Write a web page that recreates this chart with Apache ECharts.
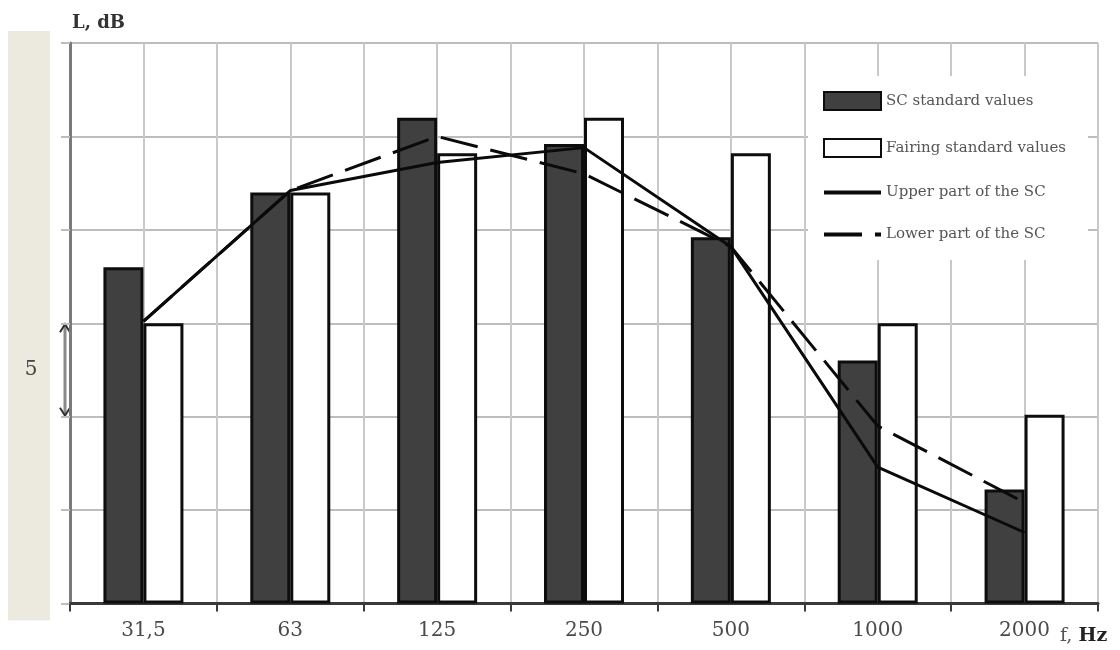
<!DOCTYPE html>
<html>
<head>
<meta charset="utf-8">
<script src="https://cdn.jsdelivr.net/npm/echarts@6/dist/echarts.min.js"></script>
<style>
  html, body { margin: 0; padding: 0; background: #fff; }
  #chart { width: 1120px; height: 650px; }
</style>
</head>
<body>
<div id="chart"></div>
<script>
// ---- data ----
const categories = ['31,5', '63', '125', '250', '500', '1000', '2000'];
const scStandard = [18.0, 22.0, 26.0, 24.6, 19.6, 13.0, 6.1];
const fairingStandard = [15.0, 22.0, 24.1, 26.0, 24.1, 15.0, 10.1];
const upperSC = [15.1, 22.1, 23.6, 24.4, 19.1, 7.3, 3.8];
const lowerSC = [15.1, 22.1, 25.0, 23.0, 19.1, 9.5, 5.4];
const yMin = 0, yMax = 30, yStep = 5;
const halfBands = 14; // vertical grid lines every half category
const seriesNames = ['SC standard values', 'Fairing standard values', 'Upper part of the SC', 'Lower part of the SC'];
const bracketFrom = 10, bracketTo = 15, bracketLabel = '5';

const serif = 'DejaVu Serif';
const chart = echarts.init(document.getElementById('chart'), null, { renderer: 'canvas' });
const hiddenSymbol = { color: 'rgba(0,0,0,0)', borderWidth: 0, opacity: 0 };

chart.setOption({
  animation: false,
  backgroundColor: '#fff',
  grid: { left: 70, right: 22, top: 43, bottom: 46.5, containLabel: false },
  legend: {
    orient: 'vertical',
    left: 808, top: 76,
    padding: [15, 22, 18, 14],
    backgroundColor: '#fff',
    itemWidth: 57, itemHeight: 18, itemGap: 27,
    selectedMode: false,
    textStyle: { fontFamily: serif, fontSize: 15, color: '#555' },
    data: [
      { name: seriesNames[0], icon: 'rect' },
      { name: seriesNames[1], icon: 'rect' },
      { name: seriesNames[2], itemStyle: hiddenSymbol, lineStyle: { width: 4 } },
      { name: seriesNames[3], itemStyle: hiddenSymbol, lineStyle: { width: 4 } }
    ]
  },
  xAxis: [
    {
      type: 'category', data: categories, boundaryGap: true,
      axisLine: { show: true, lineStyle: { color: '#3a3a3a', width: 3 } },
      axisTick: { show: true, interval: 0, length: 8, lineStyle: { color: '#3a3a3a', width: 2 } },
      axisLabel: { interval: 0, margin: 17, fontFamily: serif, fontSize: 20, color: '#4a4a4a' },
      splitLine: { show: false }
    },
    {
      type: 'value', min: 0, max: halfBands, interval: 1, position: 'top',
      axisLine: { show: false }, axisTick: { show: false }, axisLabel: { show: false },
      splitLine: { show: true, lineStyle: { color: '#c9c9c9', width: 2 } }
    }
  ],
  yAxis: {
    type: 'value', min: yMin, max: yMax, interval: yStep,
    name: 'L, dB', nameLocation: 'end', nameGap: 11,
    nameTextStyle: { align: 'left', fontFamily: serif, fontWeight: 'bold', fontSize: 18, color: '#333', padding: [0, 0, 0, 2] },
    axisLine: { show: true, lineStyle: { color: '#7a7a7a', width: 3 } },
    axisTick: { show: true, length: 9, lineStyle: { color: '#bdbdbd', width: 2 } },
    axisLabel: { show: false },
    splitLine: { show: true, lineStyle: { color: '#bdbdbd', width: 2 } }
  },
  series: [
    {
      name: seriesNames[0], type: 'bar', xAxisIndex: 0, data: scStandard,
      barWidth: 40, barGap: '0%',
      itemStyle: { color: '#404040', borderColor: '#0d0d0d', borderWidth: 3 }
    },
    {
      name: seriesNames[1], type: 'bar', xAxisIndex: 0, data: fairingStandard,
      barWidth: 40, barGap: '0%',
      itemStyle: { color: '#ffffff', borderColor: '#0d0d0d', borderWidth: 3 }
    },
    {
      name: seriesNames[2], type: 'line', xAxisIndex: 0, data: upperSC,
      symbol: 'none', showSymbol: false,
      lineStyle: { color: '#0a0a0a', width: 3 }, itemStyle: { color: '#0a0a0a' }
    },
    {
      name: seriesNames[3], type: 'line', xAxisIndex: 0, data: lowerSC,
      symbol: 'none', showSymbol: false,
      lineStyle: { color: '#0a0a0a', width: 3, type: [38, 13] }, itemStyle: { color: '#0a0a0a' }
    }
  ]
});

// annotations built from the library's own scale
const yTop = chart.convertToPixel({ yAxisIndex: 0 }, bracketTo);
const yBot = chart.convertToPixel({ yAxisIndex: 0 }, bracketFrom);
const yAxisTopPx = chart.convertToPixel({ yAxisIndex: 0 }, yMax);
const yAxisBotPx = chart.convertToPixel({ yAxisIndex: 0 }, yMin);
const xRight = chart.convertToPixel({ xAxisIndex: 1 }, halfBands);
const ax = 65;

chart.setOption({
  graphic: [
    { type: 'rect', z: -10, silent: true,
      shape: { x: 8, y: yAxisTopPx - 12, width: 42, height: (yAxisBotPx + 17) - (yAxisTopPx - 12) },
      style: { fill: '#ece9df' } },
    { type: 'text', silent: true, x: 31, y: (yTop + yBot) / 2,
      style: { text: bracketLabel, fontFamily: serif, fontSize: 20, fill: '#444', align: 'center', verticalAlign: 'middle' } },
    { type: 'line', silent: true, shape: { x1: ax, y1: yTop + 2, x2: ax, y2: yBot - 2 },
      style: { stroke: '#8a8a8a', lineWidth: 3 } },
    { type: 'polyline', silent: true, shape: { points: [[ax - 5, yTop + 9], [ax, yTop + 1], [ax + 5, yTop + 9]] },
      style: { stroke: '#333', lineWidth: 2, fill: null } },
    { type: 'polyline', silent: true, shape: { points: [[ax - 5, yBot - 9], [ax, yBot - 1], [ax + 5, yBot - 9]] },
      style: { stroke: '#333', lineWidth: 2, fill: null } },
    { type: 'text', silent: true, x: xRight - 38, y: yAxisBotPx + 33,
      style: {
        text: '{a|f, }{b|Hz}', verticalAlign: 'middle', align: 'left',
        rich: {
          a: { fontFamily: serif, fontSize: 19, fill: '#555' },
          b: { fontFamily: serif, fontSize: 19, fontWeight: 'bold', fill: '#222' }
        }
      } }
  ]
});
</script>
</body>
</html>
